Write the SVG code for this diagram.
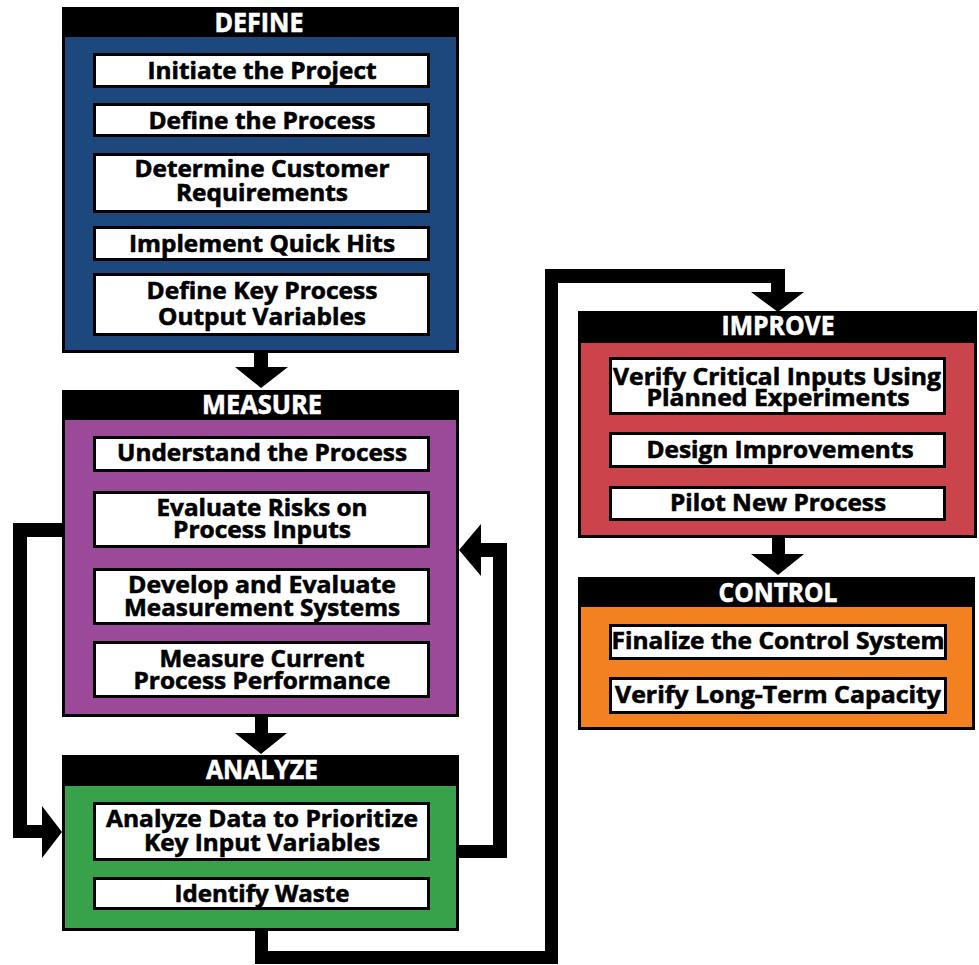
<svg xmlns="http://www.w3.org/2000/svg" width="979" height="965" viewBox="0 0 979 965">
<style>
.frame{fill:#000}
.box{fill:#fff;stroke:#000;stroke-width:3}
.hd{font-family:'Open Sans','Liberation Sans',sans-serif;font-weight:700;font-size:26px;fill:#fff;stroke:#fff;stroke-width:0.6;text-anchor:middle}
.t{font-family:'Open Sans','Liberation Sans',sans-serif;font-weight:700;font-size:24px;fill:#000;stroke:#000;stroke-width:0.6;text-anchor:middle}
.conn{fill:#000}
</style>
<rect width="979" height="965" fill="#fff"/>
<g id="connectors">
<polygon class="conn" points="254,352 268,352 268,367 288,367 261,388 235,367 254,367"/>
<polygon class="conn" points="255,716 268,716 268,733 287,733 261,754 235,733 255,733"/>
<polygon class="conn" points="772,537 785,537 785,554 804,554 778,575 751,554 772,554"/>
<polygon class="conn" points="63,523 13,523 13,838 42,838 42,858 62,832 42,806 42,825 27,825 27,537 63,537"/>
<polygon class="conn" points="459,550 481,524 481,543 507,543 507,858 458,858 458,845 493,845 493,557 481,557 481,576"/>
<polygon class="conn" points="255,930 255,964 558,964 558,283 771,283 771,292 751,292 778,312 804,292 785,292 785,269 545,269 545,951 268,951 268,930"/>
</g>
<g id="define">
<rect class="frame" x="62" y="7" width="397" height="346"/>
<rect x="65" y="37" width="391" height="313" fill="#1c487d"/>
<text class="hd" x="259" y="32" textLength="89" lengthAdjust="spacingAndGlyphs">DEFINE</text>
<rect class="box" x="94.5" y="54.5" width="334" height="32"/>
<text class="t" x="262" y="79" textLength="229" lengthAdjust="spacingAndGlyphs">Initiate the Project</text>
<rect class="box" x="94.5" y="104.5" width="334" height="31"/>
<text class="t" x="262" y="129" textLength="227" lengthAdjust="spacingAndGlyphs">Define the Process</text>
<rect class="box" x="94.5" y="154.5" width="334" height="57"/>
<text class="t" x="262" y="177" textLength="255" lengthAdjust="spacingAndGlyphs">Determine Customer</text>
<text class="t" x="262" y="201" textLength="172" lengthAdjust="spacingAndGlyphs">Requirements</text>
<rect class="box" x="94.5" y="227.5" width="334" height="32"/>
<text class="t" x="262" y="252" textLength="266" lengthAdjust="spacingAndGlyphs">Implement Quick Hits</text>
<rect class="box" x="94.5" y="274.5" width="334" height="60"/>
<text class="t" x="262" y="299" textLength="231" lengthAdjust="spacingAndGlyphs">Define Key Process</text>
<text class="t" x="262" y="325" textLength="208" lengthAdjust="spacingAndGlyphs">Output Variables</text>
</g>
<g id="measure">
<rect class="frame" x="62" y="390" width="397" height="327"/>
<rect x="65" y="420" width="391" height="294" fill="#9b4a9a"/>
<text class="hd" x="262" y="414" textLength="120" lengthAdjust="spacingAndGlyphs">MEASURE</text>
<rect class="box" x="94.5" y="437.5" width="334" height="33"/>
<text class="t" x="262" y="461" textLength="290" lengthAdjust="spacingAndGlyphs">Understand the Process</text>
<rect class="box" x="94.5" y="492.5" width="334" height="54"/>
<text class="t" x="262" y="516" textLength="211" lengthAdjust="spacingAndGlyphs">Evaluate Risks on</text>
<text class="t" x="262" y="538" textLength="178" lengthAdjust="spacingAndGlyphs">Process Inputs</text>
<rect class="box" x="94.5" y="569.5" width="334" height="54"/>
<text class="t" x="262" y="593" textLength="268" lengthAdjust="spacingAndGlyphs">Develop and Evaluate</text>
<text class="t" x="262" y="616" textLength="276" lengthAdjust="spacingAndGlyphs">Measurement Systems</text>
<rect class="box" x="94.5" y="642.5" width="334" height="54"/>
<text class="t" x="262" y="667" textLength="205" lengthAdjust="spacingAndGlyphs">Measure Current</text>
<text class="t" x="262" y="689" textLength="257" lengthAdjust="spacingAndGlyphs">Process Performance</text>
</g>
<g id="analyze">
<rect class="frame" x="62" y="755" width="397" height="176"/>
<rect x="65" y="786" width="391" height="142" fill="#37a24a"/>
<text class="hd" x="262" y="779" textLength="112" lengthAdjust="spacingAndGlyphs">ANALYZE</text>
<rect class="box" x="94.5" y="803.5" width="334" height="56"/>
<text class="t" x="262" y="827" textLength="312" lengthAdjust="spacingAndGlyphs">Analyze Data to Prioritize</text>
<text class="t" x="262" y="851" textLength="236" lengthAdjust="spacingAndGlyphs">Key Input Variables</text>
<rect class="box" x="94.5" y="878.5" width="334" height="30"/>
<text class="t" x="262" y="902" textLength="175" lengthAdjust="spacingAndGlyphs">Identify Waste</text>
</g>
<g id="improve">
<rect class="frame" x="578" y="311" width="399" height="227"/>
<rect x="581" y="343" width="393" height="192" fill="#cc444b"/>
<text class="hd" x="778" y="335" textLength="113" lengthAdjust="spacingAndGlyphs">IMPROVE</text>
<rect class="box" x="610.5" y="358.5" width="334" height="55"/>
<text class="t" x="777" y="385" textLength="328" lengthAdjust="spacingAndGlyphs">Verify Critical Inputs Using</text>
<text class="t" x="778" y="406" textLength="263" lengthAdjust="spacingAndGlyphs">Planned Experiments</text>
<rect class="box" x="610.5" y="433.5" width="334" height="33"/>
<text class="t" x="780" y="458" textLength="267" lengthAdjust="spacingAndGlyphs">Design Improvements</text>
<rect class="box" x="610.5" y="487.5" width="334" height="32"/>
<text class="t" x="778" y="511" textLength="216" lengthAdjust="spacingAndGlyphs">Pilot New Process</text>
</g>
<g id="control">
<rect class="frame" x="578" y="577" width="397" height="153"/>
<rect x="581" y="607" width="391" height="120" fill="#f38120"/>
<text class="hd" x="778" y="602" textLength="119" lengthAdjust="spacingAndGlyphs">CONTROL</text>
<rect class="box" x="610.5" y="625.5" width="335" height="33"/>
<text class="t" x="778" y="649" textLength="333" lengthAdjust="spacingAndGlyphs">Finalize the Control System</text>
<rect class="box" x="610.5" y="678.5" width="335" height="34"/>
<text class="t" x="778" y="703" textLength="326" lengthAdjust="spacingAndGlyphs">Verify Long-Term Capacity</text>
</g>
</svg>
